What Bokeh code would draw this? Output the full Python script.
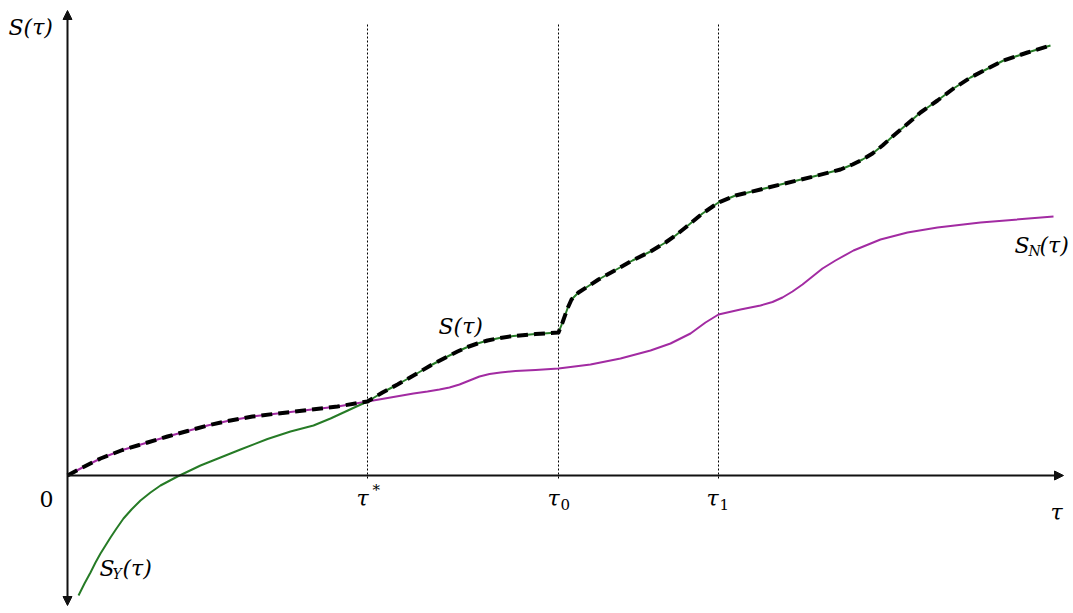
from bokeh.plotting import figure
from bokeh.models import Range1d, Label, Arrow, NormalHead
from bokeh.embed import file_html
from bokeh.resources import INLINE

# ---- data (tau, S) ----
sn_tau = [0.00, 0.15, 0.33, 0.55, 0.80, 1.00, 1.20, 1.40, 1.60, 1.85, 2.10, 2.40, 2.70, 3.00,
          3.23, 3.46, 3.60, 3.72, 3.82, 3.92, 4.02, 4.12, 4.22, 4.33, 4.48, 4.68, 4.91,
          5.23, 5.53, 5.83, 6.03, 6.23, 6.38, 6.51, 6.73, 6.93, 7.05, 7.15, 7.25, 7.35,
          7.45, 7.55, 7.68, 7.86, 8.13, 8.40, 8.70, 9.13, 9.86]
sn_val = [0.00, 0.08, 0.17, 0.255, 0.33, 0.39, 0.445, 0.50, 0.545, 0.59, 0.62, 0.655, 0.69, 0.74,
          0.78, 0.82, 0.84, 0.86, 0.88, 0.91, 0.95, 0.99, 1.015, 1.03, 1.045, 1.055, 1.07,
          1.11, 1.17, 1.25, 1.32, 1.42, 1.53, 1.61, 1.66, 1.70, 1.735, 1.78, 1.84, 1.91,
          1.99, 2.07, 2.15, 2.25, 2.36, 2.43, 2.48, 2.53, 2.59]

sy_tau = [0.11, 0.17, 0.23, 0.28, 0.33, 0.38, 0.43, 0.49, 0.56, 0.64, 0.73, 0.83, 0.93, 1.10,
          1.33, 1.43, 1.73, 2.00, 2.23, 2.46, 2.63, 2.76, 2.89, 3.00, 3.15, 3.30, 3.46, 3.63,
          3.80, 3.90, 4.00, 4.10, 4.20, 4.32, 4.46, 4.68, 4.91, 4.95, 5.00, 5.04, 5.11, 5.31,
          5.65, 5.83, 5.98, 6.08, 6.18, 6.35, 6.51, 6.68, 6.93, 7.13, 7.46, 7.73, 7.85, 7.95,
          8.05, 8.15, 8.25, 8.38, 8.53, 8.70, 8.86, 9.03, 9.36, 9.60, 9.83]
sy_val = [-1.20, -1.08, -0.97, -0.87, -0.78, -0.70, -0.62, -0.53, -0.43, -0.34, -0.25, -0.17, -0.10, -0.01,
          0.10, 0.14, 0.26, 0.365, 0.44, 0.50, 0.57, 0.63, 0.69, 0.74, 0.83, 0.91, 1.00, 1.10,
          1.19, 1.24, 1.285, 1.32, 1.35, 1.375, 1.395, 1.415, 1.43, 1.53, 1.67, 1.76, 1.83, 1.96,
          2.15, 2.24, 2.33, 2.40, 2.48, 2.62, 2.73, 2.80, 2.86, 2.91, 2.99, 3.06, 3.11, 3.16,
          3.22, 3.30, 3.39, 3.50, 3.63, 3.75, 3.87, 3.98, 4.15, 4.23, 4.30]

tau_star, tau0, tau1 = 3.00, 4.91, 6.51
tau_max, s_top, s_bottom = 9.96, 4.65, -1.30

# combined envelope S = S_N before tau*, S_Y after
s_tau = [t for t in sn_tau if t <= tau_star] + [t for t in sy_tau if t > tau_star]
s_val = [v for t, v in zip(sn_tau, sn_val) if t <= tau_star] + \
        [v for t, v in zip(sy_tau, sy_val) if t > tau_star]

GREEN = "#267b26"
PURPLE = "#a22ba2"
FONT = "DejaVu Serif"

p = figure(width=1073, height=613, x_range=Range1d(-0.67, 10.06), y_range=Range1d(-1.38, 4.75),
           output_backend="svg", toolbar_location=None, x_axis_type=None, y_axis_type=None,
           min_border=0)
p.grid.visible = False
p.outline_line_color = None
p.background_fill_color = "white"
p.border_fill_color = "white"

# vertical dotted guides
p.segment(x0=[tau_star, tau0, tau1], y0=[-0.03] * 3, x1=[tau_star, tau0, tau1], y1=[4.53] * 3,
          line_color="black", line_width=1, line_dash="2 2")

# axes with arrows
AX = "#111111"
p.add_layout(Arrow(x_start=0, y_start=0, x_end=tau_max, y_end=0, line_width=2, line_color=AX,
                   end=NormalHead(size=9, fill_color=AX, line_color=AX)))
p.add_layout(Arrow(x_start=0, y_start=s_bottom, x_end=0, y_end=s_top, line_width=2, line_color=AX,
                   start=NormalHead(size=9, fill_color=AX, line_color=AX),
                   end=NormalHead(size=9, fill_color=AX, line_color=AX)))

# curves
p.line(sn_tau, sn_val, line_color=PURPLE, line_width=2, line_join="round")
p.line(sy_tau, sy_val, line_color=GREEN, line_width=2, line_join="round")
p.line(s_tau, s_val, line_color="black", line_width=4, line_dash="11 6", line_join="round")


def lab(px, py, text, size=22, style="italic", align="left"):
    p.add_layout(Label(x=(px - 67) / 100, y=(475 - py) / 100, text=text,
                       text_font=FONT, text_font_size=f"{size}px", text_font_style=style,
                       text_align=align, text_baseline="alphabetic", text_color="black"))


# y-axis title
lab(8, 27, "S(τ)")
# origin
lab(46, 498, "0", style="normal", align="center")
# tick labels
lab(356, 498, "τ")
lab(372, 489, "*", size=15, style="normal")
lab(547, 498, "τ")
lab(560, 504, "0", size=15, style="normal")
lab(706, 498, "τ")
lab(719, 504, "1", size=15, style="normal")
# x axis title
lab(1050, 512, "τ")
# curve labels
lab(438, 326, "S(τ)")
lab(1014, 245, "S")
lab(1028, 250, "N", size=14)
lab(1039, 245, "(τ)")
lab(99, 568, "S")
lab(112, 573, "Y", size=14)
lab(122, 568, "(τ)")

open("out.html", "w").write(file_html(p, INLINE))
